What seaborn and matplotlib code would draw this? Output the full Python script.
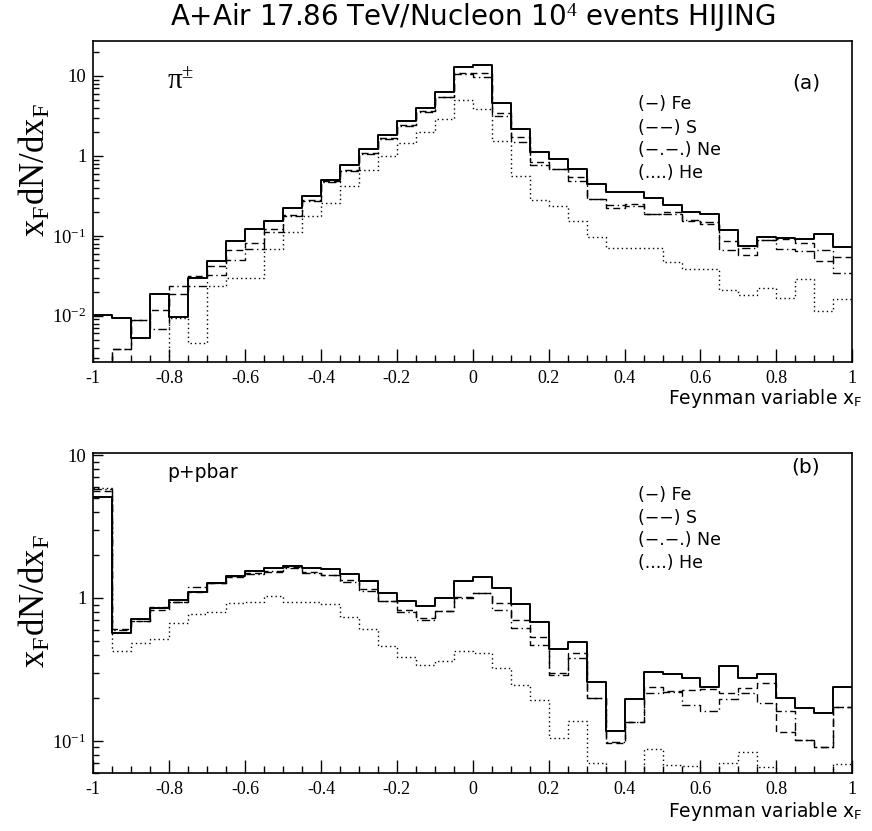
import numpy as np
import pandas as pd
import matplotlib
matplotlib.use('Agg')
import matplotlib.pyplot as plt
import seaborn as sns
from matplotlib.ticker import FixedLocator, FuncFormatter, LogLocator, NullFormatter, MultipleLocator

# ---------------- data (40 bins in x_F from -1 to 1) ----------------
bin_edges = [round(-1.0 + 0.05 * i, 2) for i in range(41)]
bin_centers = [round(-0.975 + 0.05 * i, 3) for i in range(40)]

# panel (a): pi+-
fe_a = [0.0103, 0.0095, 0.0053, 0.0187, 0.0097, 0.0295, 0.048, 0.085, 0.122, 0.155,
        0.222, 0.313, 0.506, 0.78, 1.21, 1.85, 2.74, 4.02, 6.37, 12.8,
        13.9, 4.64, 2.15, 1.12, 0.91, 0.68, 0.44, 0.358, 0.358, 0.30,
        0.24, 0.20, 0.19, 0.117, 0.0736, 0.097, 0.0935, 0.0917, 0.106, 0.072]
s_a = [0.001, 0.0038, 0.0089, 0.0119, 0.0188, 0.031, 0.042, 0.066, 0.081, 0.121,
       0.183, 0.28, 0.49, 0.67, 1.10, 1.69, 2.44, 3.65, 5.52, 10.8,
       10.8, 3.42, 1.71, 0.83, 0.68, 0.55, 0.29, 0.226, 0.25, 0.188,
       0.201, 0.155, 0.141, 0.085, 0.058, 0.089, 0.09, 0.081, 0.049, 0.0536]
ne_a = [0.001, 0.0038, 0.0089, 0.0069, 0.0237, 0.0237, 0.032, 0.050, 0.068, 0.113,
        0.175, 0.27, 0.47, 0.64, 1.07, 1.64, 2.37, 3.55, 5.4, 10.5,
        9.8, 3.16, 1.51, 0.77, 0.68, 0.48, 0.29, 0.24, 0.235, 0.19,
        0.19, 0.16, 0.15, 0.066, 0.0708, 0.089, 0.068, 0.064, 0.066, 0.034]
he_a = [0.001, 0.001, 0.001, 0.001, 0.0093, 0.0046, 0.0237, 0.030, 0.030, 0.069,
        0.113, 0.178, 0.256, 0.426, 0.662, 1.0, 1.43, 2.01, 2.93, 5.0,
        3.9, 1.54, 0.568, 0.282, 0.233, 0.155, 0.098, 0.070, 0.070, 0.070,
        0.047, 0.038, 0.039, 0.021, 0.018, 0.022, 0.0168, 0.029, 0.0116, 0.0164]

# panel (b): p+pbar
fe_b = [5.1, 0.572, 0.713, 0.847, 0.968, 1.10, 1.27, 1.43, 1.54, 1.63,
        1.68, 1.63, 1.60, 1.47, 1.32, 1.08, 0.957, 0.883, 1.005, 1.32,
        1.40, 1.17, 0.915, 0.675, 0.442, 0.496, 0.258, 0.117, 0.196, 0.303,
        0.292, 0.274, 0.237, 0.336, 0.274, 0.292, 0.201, 0.169, 0.156, 0.238]
s_b = [5.6, 0.604, 0.69, 0.82, 0.93, 1.10, 1.27, 1.40, 1.50, 1.52,
       1.66, 1.52, 1.45, 1.34, 1.15, 0.957, 0.82, 0.72, 0.815, 1.02,
       1.08, 0.918, 0.70, 0.53, 0.30, 0.41, 0.20, 0.096, 0.136, 0.24,
       0.225, 0.227, 0.232, 0.218, 0.233, 0.253, 0.116, 0.1016, 0.090, 0.174]
ne_b = [5.8, 0.60, 0.69, 0.86, 0.93, 1.20, 1.28, 1.42, 1.48, 1.55,
        1.63, 1.50, 1.45, 1.30, 1.12, 0.96, 0.80, 0.70, 0.815, 1.00,
        1.08, 0.824, 0.614, 0.469, 0.29, 0.38, 0.20, 0.098, 0.136, 0.218,
        0.22, 0.179, 0.163, 0.195, 0.215, 0.184, 0.163, 0.1016, 0.090, 0.174]
he_b = [5.9, 0.425, 0.487, 0.514, 0.673, 0.773, 0.80, 0.918, 0.933, 1.03,
        0.933, 0.94, 0.904, 0.74, 0.604, 0.464, 0.385, 0.34, 0.363, 0.428,
        0.41, 0.322, 0.247, 0.194, 0.105, 0.138, 0.0698, 0.04, 0.04, 0.0875,
        0.068, 0.067, 0.04, 0.0698, 0.084, 0.0655, 0.04, 0.04, 0.04, 0.069]

x_ticks = [-1, -0.8, -0.6, -0.4, -0.2, 0, 0.2, 0.4, 0.6, 0.8, 1]
legend_lines = ['(\u2212) Fe', '(\u2212\u2212) S', '(\u2212.\u2212.) Ne', '(....) He']
title = 'A+Air 17.86 TeV/Nucleon 10$^{4}$ events HIJING'

# ---------------- style ----------------
sns.set_style('white')
plt.rcParams.update({
    'font.family': ['Liberation Serif', 'DejaVu Sans'],
    'mathtext.fontset': 'custom',
    'mathtext.rm': 'Liberation Serif',
    'mathtext.it': 'Liberation Serif:italic',
    'mathtext.sf': 'DejaVu Sans',
    'axes.linewidth': 1.2,
    'text.color': 'black',
    'axes.labelcolor': 'black',
    'xtick.color': 'black',
    'ytick.color': 'black',
    'axes.edgecolor': 'black',
})

line_styles = [
    dict(linestyle='-', linewidth=1.4),
    dict(linestyle=(0, (5, 3)), linewidth=1.0),
    dict(linestyle=(0, (6, 2.5, 1, 2.5)), linewidth=1.0),
    dict(linestyle=(0, (1, 2.2)), linewidth=1.0),
]

fig = plt.figure(figsize=(8.72, 8.31), dpi=100)
ax_a = fig.add_axes([0.107, 0.5647, 0.8704, 0.386])
ax_b = fig.add_axes([0.107, 0.0702, 0.8704, 0.3843])


def ylab(v, pos):
    e = int(round(np.log10(v)))
    if e == 1:
        return '10'
    if e == 0:
        return '1'
    return r'$10^{%d}$' % e


def xlab(v, pos):
    if abs(v) < 1e-9:
        return '0'
    return f'{round(v, 2):g}'


def draw(ax, series, ylim):
    for vals, st in zip(series, line_styles):
        df = pd.DataFrame({'xf': bin_centers, 'w': vals})
        sns.histplot(data=df, x='xf', weights='w', bins=bin_edges, element='step',
                     fill=False, color='black', ax=ax, **st)
    ax.set_yscale('log')
    ax.set_xlim(-1, 1)
    ax.set_ylim(*ylim)
    ax.set_xlabel('')
    ax.set_ylabel('')
    ax.xaxis.set_major_locator(FixedLocator(x_ticks))
    ax.xaxis.set_minor_locator(MultipleLocator(0.05))
    ax.xaxis.set_major_formatter(FuncFormatter(xlab))
    ax.yaxis.set_major_locator(LogLocator(base=10, numticks=10))
    ax.yaxis.set_minor_locator(LogLocator(base=10, subs=np.arange(2, 10), numticks=20))
    ax.yaxis.set_major_formatter(FuncFormatter(ylab))
    ax.yaxis.set_minor_formatter(NullFormatter())
    ax.tick_params(axis='x', which='major', direction='in', length=9.5, width=1.0,
                   top=False, bottom=True, labelsize=13, pad=6, colors='black')
    ax.tick_params(axis='x', which='minor', direction='in', length=5, width=1.0,
                   top=False, bottom=True, colors='black')
    ax.tick_params(axis='y', which='major', direction='in', length=7.5, width=1.0,
                   right=False, left=True, labelsize=13.5, pad=5, colors='black')
    ax.tick_params(axis='y', which='minor', direction='in', length=4.5, width=1.0,
                   right=False, left=True, colors='black')
    for sp in ax.spines.values():
        sp.set_visible(True)
        sp.set_color('black')
        sp.set_linewidth(1.2)


draw(ax_a, [fe_a, s_a, ne_a, he_a], (0.00266, 27.4))
draw(ax_b, [fe_b, s_b, ne_b, he_b], (0.06, 10.28))

sans = ['DejaVu Sans']
fig.text(0.542, 0.978, title, ha='center', va='center', fontsize=20, family=sans)

ylabel = r'$\mathrm{x_{F}dN/dx_{F}}$'
fig.text(0.040, 0.795, ylabel, rotation=90, ha='center', va='center', fontsize=25)
fig.text(0.040, 0.277, ylabel, rotation=90, ha='center', va='center', fontsize=25)

xlabel = r'Feynman variable x$_{\mathsf{F}}$'
fig.text(0.9885, 0.521, xlabel, ha='right', va='center', fontsize=13.5, family=sans)
fig.text(0.9885, 0.0229, xlabel, ha='right', va='center', fontsize=13.5, family=sans)

fig.text(0.1915, 0.902, '\u03c0$^{\\pm}$', ha='left', va='center', fontsize=21)
fig.text(0.1915, 0.432, 'p+pbar', ha='left', va='center', fontsize=13.5, family=sans)

fig.text(0.9243, 0.9001, '(a)', ha='center', va='center', fontsize=14.5, family=sans)
fig.text(0.9243, 0.438, '(b)', ha='center', va='center', fontsize=14.5, family=sans)

for ys in ([0.8748, 0.846, 0.8195, 0.7918], [0.4043, 0.3767, 0.3502, 0.3225]):
    for y, t in zip(ys, legend_lines):
        fig.text(0.7317, y, t, ha='left', va='center', fontsize=12.5, family=sans)

fig.savefig('out.png', dpi=100)
